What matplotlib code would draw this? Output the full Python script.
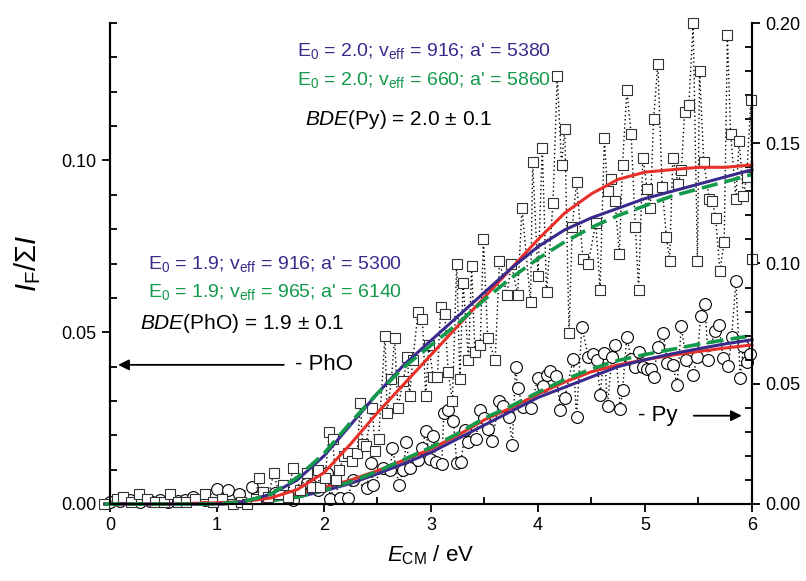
import matplotlib
matplotlib.use('Agg')
from matplotlib import pyplot as plt
from matplotlib.ticker import MultipleLocator, FormatStrFormatter

plt.rcParams['font.family'] = ['Liberation Sans', 'DejaVu Sans']
plt.rcParams['mathtext.fontset'] = 'custom'
plt.rcParams['mathtext.rm'] = 'Liberation Sans'
plt.rcParams['mathtext.it'] = 'Liberation Sans:italic'
plt.rcParams['mathtext.bf'] = 'Liberation Sans:bold'

# Py fragment (squares, right axis)
py_e = [-0.06, 0.07, 0.12, 0.20, 0.27, 0.35, 0.42, 0.50, 0.56, 0.64, 0.71, 0.79, 0.89, 0.96, 1.05,
        1.15, 1.22, 1.28, 1.36, 1.39, 1.43, 1.48, 1.53, 1.58, 1.62, 1.66, 1.71, 1.78, 1.84, 1.89,
        1.94, 1.96, 2.01, 2.05, 2.08, 2.11, 2.14, 2.19, 2.22, 2.26, 2.31, 2.34, 2.36, 2.39, 2.45,
        2.48, 2.51, 2.57, 2.59, 2.63, 2.66, 2.69, 2.74, 2.78, 2.80, 2.83, 2.88, 2.92, 2.95, 2.98,
        3.02, 3.06, 3.09, 3.13, 3.16, 3.20, 3.24, 3.27, 3.30, 3.35, 3.38, 3.41, 3.46, 3.49, 3.53,
        3.60, 3.64, 3.71, 3.75, 3.81, 3.85, 3.93, 3.95, 4.00, 4.04, 4.08, 4.14, 4.18, 4.22, 4.25,
        4.29, 4.32, 4.36, 4.42, 4.47, 4.54, 4.58, 4.62, 4.65, 4.68, 4.72, 4.76, 4.79, 4.83, 4.87,
        4.91, 4.94, 4.98, 5.02, 5.05, 5.08, 5.12, 5.16, 5.20, 5.23, 5.26, 5.31, 5.34, 5.37, 5.41,
        5.45, 5.49, 5.51, 5.55, 5.60, 5.63, 5.66, 5.70, 5.74, 5.77, 5.80, 5.85, 5.88, 5.92, 5.95,
        5.99, 6.00]
py_val = [0.000, 0.002, 0.003, 0.001, 0.004, 0.002, 0.001, 0.001, 0.004, 0.001, 0.001, 0.002, 0.004, 0.001, 0.002,
          0.000, 0.001, 0.000, 0.002, 0.011, 0.005, 0.003, 0.013, 0.004, 0.008, 0.003, 0.015, 0.006, 0.013, 0.007,
          0.014, 0.007, 0.011, 0.030, 0.027, 0.010, 0.014, 0.020, 0.021, 0.018, 0.021, 0.042, 0.025, 0.024, 0.040,
          0.022, 0.027, 0.070, 0.038, 0.052, 0.069, 0.040, 0.051, 0.061, 0.045, 0.060, 0.080, 0.077, 0.045, 0.066,
          0.053, 0.053, 0.082, 0.079, 0.055, 0.043, 0.100, 0.052, 0.092, 0.060, 0.099, 0.063, 0.066, 0.110, 0.069,
          0.060, 0.101, 0.087, 0.100, 0.087, 0.123, 0.084, 0.142, 0.095, 0.148, 0.088, 0.125, 0.178, 0.141, 0.156,
          0.071, 0.115, 0.134, 0.102, 0.100, 0.117, 0.089, 0.152, 0.130, 0.135, 0.126, 0.104, 0.141, 0.172, 0.154,
          0.115, 0.089, 0.144, 0.131, 0.123, 0.160, 0.183, 0.132, 0.111, 0.101, 0.144, 0.133, 0.139, 0.163, 0.166,
          0.200, 0.101, 0.180, 0.142, 0.127, 0.126, 0.119, 0.097, 0.109, 0.195, 0.154, 0.127, 0.151, 0.128, 0.136,
          0.168, 0.102]

# PhO fragment (circles, left axis)
pho_e = [0.00, 0.09, 0.19, 0.28, 0.37, 0.47, 0.54, 0.64, 0.70, 0.78, 0.89, 1.00, 1.10, 1.21, 1.33,
         1.43, 1.54, 1.65, 1.71, 1.84, 1.88, 1.94, 2.03, 2.06, 2.10, 2.15, 2.22, 2.27, 2.40, 2.44,
         2.46, 2.55, 2.62, 2.64, 2.70, 2.74, 2.77, 2.80, 2.88, 2.92, 2.95, 2.99, 3.02, 3.05, 3.10,
         3.12, 3.16, 3.21, 3.24, 3.28, 3.32, 3.35, 3.42, 3.46, 3.50, 3.53, 3.57, 3.64, 3.67, 3.73,
         3.76, 3.79, 3.81, 3.86, 3.93, 4.00, 4.05, 4.08, 4.11, 4.17, 4.21, 4.25, 4.33, 4.36, 4.41,
         4.47, 4.51, 4.55, 4.58, 4.62, 4.65, 4.69, 4.72, 4.77, 4.79, 4.83, 4.87, 4.91, 4.94, 4.98,
         5.02, 5.06, 5.08, 5.12, 5.17, 5.21, 5.26, 5.30, 5.34, 5.38, 5.45, 5.49, 5.52, 5.56, 5.59,
         5.65, 5.69, 5.73, 5.78, 5.81, 5.85, 5.89, 5.92, 5.95, 5.98]
pho_val = [0.0006, 0.0009, 0.0012, 0.0006, 0.0009, 0.0012, 0.0006, 0.0009, 0.0012, 0.0020, 0.0012, 0.0044, 0.0041, 0.0029, 0.0050,
           0.0020, 0.0032, 0.0023, 0.0012, 0.0061, 0.0055, 0.0041, 0.0090, 0.0015, 0.0067, 0.0017, 0.0017, 0.0070, 0.0047, 0.0120,
           0.0055, 0.0105, 0.0099, 0.0163, 0.0055, 0.0099, 0.0181, 0.0105, 0.0128, 0.0163, 0.0213, 0.0131, 0.0198, 0.0122, 0.0117,
           0.0265, 0.0274, 0.0242, 0.0120, 0.0122, 0.0216, 0.0181, 0.0189, 0.0274, 0.0251, 0.0219, 0.0184, 0.0300, 0.0286, 0.0254,
           0.0172, 0.0399, 0.0338, 0.0283, 0.0280, 0.0367, 0.0344, 0.0376, 0.0388, 0.0373, 0.0274, 0.0309, 0.0423, 0.0254, 0.0516,
           0.0429, 0.0437, 0.0420, 0.0318, 0.0440, 0.0286, 0.0429, 0.0464, 0.0277, 0.0332, 0.0487, 0.0423, 0.0399, 0.0443, 0.0399,
           0.0394, 0.0394, 0.0370, 0.0458, 0.0498, 0.0411, 0.0405, 0.0347, 0.0519, 0.0420, 0.0376, 0.0429, 0.0548, 0.0583, 0.0420,
           0.0504, 0.0522, 0.0426, 0.0402, 0.0487, 0.0650, 0.0367, 0.0461, 0.0414, 0.0437]

# model curves
fit_e = [-0.05, 0.5, 1.0, 1.25, 1.5, 1.75, 2.0, 2.25, 2.5, 2.75, 3.0, 3.25, 3.5, 3.75, 4.0,
         4.25, 4.5, 4.75, 5.0, 5.25, 5.5, 5.75, 6.0]
py_red = [0.0, 0.0, 0.0005, 0.001, 0.0025, 0.006, 0.013, 0.025, 0.038, 0.050, 0.062, 0.074, 0.086, 0.098, 0.110,
          0.121, 0.129, 0.135, 0.138, 0.139, 0.140, 0.140, 0.141]
py_blue = [0.0, 0.0, 0.0, 0.001, 0.004, 0.010, 0.020, 0.033, 0.046, 0.058, 0.068, 0.078, 0.088, 0.098, 0.107,
           0.114, 0.119, 0.123, 0.127, 0.130, 0.133, 0.136, 0.139]
py_green = [0.0, 0.0, 0.0, 0.001, 0.004, 0.011, 0.021, 0.034, 0.046, 0.057, 0.066, 0.075, 0.085, 0.094, 0.102,
            0.109, 0.115, 0.120, 0.124, 0.128, 0.131, 0.134, 0.137]
pho_red = [0.0, 0.0, 0.0005, 0.001, 0.0018, 0.003, 0.0048, 0.007, 0.0097, 0.0128, 0.016, 0.020, 0.0245, 0.028, 0.032,
           0.0355, 0.0385, 0.0405, 0.042, 0.0433, 0.0444, 0.0454, 0.0463]
pho_blue = [0.0, 0.0, 0.0, 0.0003, 0.001, 0.002, 0.0038, 0.006, 0.0088, 0.0118, 0.015, 0.019, 0.023, 0.027, 0.031,
            0.034, 0.037, 0.040, 0.042, 0.0437, 0.0452, 0.0466, 0.0478]
pho_green = [0.0, 0.0, 0.0, 0.0005, 0.001, 0.002, 0.004, 0.0065, 0.0095, 0.013, 0.0165, 0.0205, 0.025, 0.0285, 0.0325,
             0.0362, 0.0393, 0.0418, 0.0435, 0.045, 0.0465, 0.0478, 0.049]

RED = '#e8302a'
BLUE = '#3a2a8c'
GREEN = '#12994a'

fig = plt.figure(figsize=(8.06, 5.81), dpi=100)
ax = fig.add_axes([110 / 806, 77 / 581, 642 / 806, 481 / 581])
ax2 = ax.twinx()

dots = (0, (1, 2))
ax.plot(pho_e, pho_val, ls=dots, lw=1, color='black', marker='o', ms=8.5,
        mfc='white', mec='black', mew=0.8, clip_on=False)
ax2.plot(py_e, py_val, ls=dots, lw=1, color='black', marker='s', ms=7,
         mfc='white', mec='#333333', mew=0.8, clip_on=False)

dash = (0, (4.5, 2))
ax.plot(fit_e, pho_red, color=RED, lw=2.2, clip_on=False)
ax.plot(fit_e, pho_blue, color=BLUE, lw=2.2, clip_on=False)
ax.plot(fit_e, pho_green, color=GREEN, lw=2.6, ls=dash, clip_on=False)
ax2.plot(fit_e, py_red, color=RED, lw=2.2, clip_on=False)
ax2.plot(fit_e, py_blue, color=BLUE, lw=2.2, clip_on=False)
ax2.plot(fit_e, py_green, color=GREEN, lw=2.6, ls=dash, clip_on=False)

ax.set_xlim(0, 6)
ax.set_ylim(0, 0.14)
ax2.set_ylim(0, 0.20)

for a in (ax, ax2):
    a.spines['top'].set_visible(False)
    for s in a.spines.values():
        s.set_linewidth(1.5)
    a.tick_params(which='major', direction='out', length=6, width=1.3, labelsize=13)
    a.tick_params(which='minor', direction='in', length=5, width=1.3)

ax.xaxis.set_major_locator(MultipleLocator(1))
ax.xaxis.set_minor_locator(MultipleLocator(0.5))
ax.yaxis.set_major_locator(MultipleLocator(0.05))
ax.yaxis.set_minor_locator(MultipleLocator(0.01))
ax.yaxis.set_major_formatter(FormatStrFormatter('%.2f'))
ax2.yaxis.set_major_locator(MultipleLocator(0.05))
ax2.yaxis.set_minor_locator(MultipleLocator(0.01))
ax2.yaxis.set_major_formatter(FormatStrFormatter('%.2f'))

ax.set_ylabel(r'$I_{\mathrm{F}}/\Sigma I$', fontsize=21)
ax.yaxis.set_label_coords(-0.105, 0.5)
ax.set_xlabel(r'$E_{\mathrm{CM}}$ / eV', fontsize=16)
ax.xaxis.set_label_coords(0.5, -0.082)

fs = 14
ax.text(1.75, 0.1318, r"E$_0$ = 2.0; v$_{\mathrm{eff}}$ = 916; a' = 5380", color=BLUE,
        fontsize=fs, va='center')
ax.text(1.75, 0.1233, r"E$_0$ = 2.0; v$_{\mathrm{eff}}$ = 660; a' = 5860", color=GREEN,
        fontsize=fs, va='center')
ax.text(1.82, 0.112, r"$BDE$(Py) = 2.0 ± 0.1", color='black', fontsize=15, va='center')
ax.text(0.355, 0.070, r"E$_0$ = 1.9; v$_{\mathrm{eff}}$ = 916; a' = 5300", color=BLUE,
        fontsize=fs, va='center')
ax.text(0.355, 0.0618, r"E$_0$ = 1.9; v$_{\mathrm{eff}}$ = 965; a' = 6140", color=GREEN,
        fontsize=fs, va='center')
ax.text(0.28, 0.0525, r"$BDE$(PhO) = 1.9 ± 0.1", color='black', fontsize=15, va='center')

ax.text(1.73, 0.0405, '- PhO', fontsize=16, va='center')
ax.annotate('', xy=(0.05, 0.0405), xytext=(1.65, 0.0405),
            arrowprops=dict(arrowstyle='-|>', color='black', lw=1.3, mutation_scale=16))
ax.text(4.93, 0.0257, '- Py', fontsize=16, va='center')
ax.annotate('', xy=(5.93, 0.0257), xytext=(5.43, 0.0257),
            arrowprops=dict(arrowstyle='-|>', color='black', lw=1.3, mutation_scale=16))

fig.savefig('out.png', dpi=100)
